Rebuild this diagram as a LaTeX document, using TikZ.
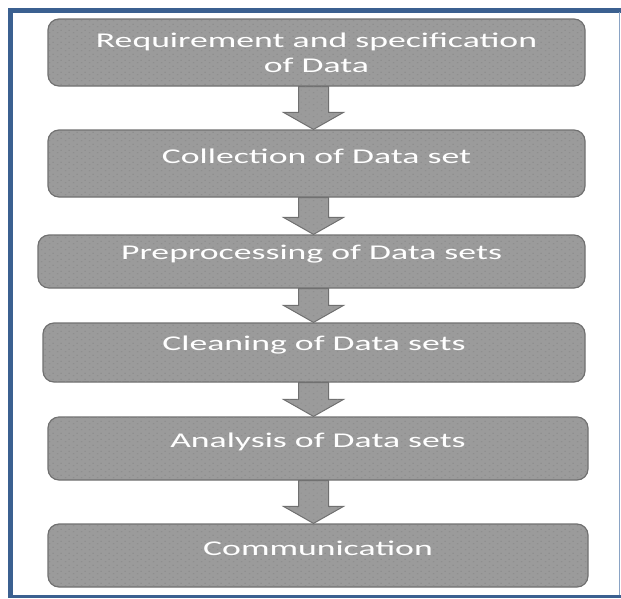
\documentclass[tikz,border=0pt]{standalone}
\usepackage{fontspec}
\newfontfamily\stagefont[FakeStretch=1.7]{Carlito}
\usetikzlibrary{calc,patterns}

\definecolor{frameblue}{HTML}{3B6090}
\definecolor{framelight}{HTML}{8AA3C4}
\definecolor{boxgray}{HTML}{9B9B9B}
\definecolor{boxline}{HTML}{707070}
\definecolor{boxdot}{HTML}{8A8A8A}

% fine grain used on the boxes and arrows
\pgfdeclarepatternformonly{grain}{\pgfpointorigin}{\pgfqpoint{8pt}{6pt}}{\pgfqpoint{8pt}{6pt}}{%
  \pgfpathrectangle{\pgfqpoint{1pt}{1pt}}{\pgfqpoint{1.6pt}{0.8pt}}%
  \pgfpathrectangle{\pgfqpoint{5pt}{4pt}}{\pgfqpoint{1.6pt}{0.8pt}}%
  \pgfusepath{fill}}

\tikzset{
  stage/.style={draw=boxline, line width=1.2pt, fill=boxgray, rounded corners=11pt,
    text=white, font=\stagefont\fontsize{21}{25}\selectfont, align=center, inner sep=0pt,
    postaction={pattern=grain, pattern color=boxdot}},
  flow/.style={draw=boxline, line width=1pt, fill=boxgray,
    postaction={pattern=grain, pattern color=boxdot}}
}

% single line labels sit a little above the middle
\newcommand{\lift}[1]{\raisebox{7pt}[\height][\depth]{#1}}

% block arrow from the bottom of one box to the top of the next
\newcommand{\flowarrow}[2]{%
  \draw[flow] let \p1=(#1.south), \p2=(#2.north) in
    (298.5,\y1) -- (328.5,\y1) -- (328.5,{\y2+17pt}) -- (343.5,{\y2+17pt})
    -- (313.5,\y2) -- (283.5,{\y2+17pt}) -- (298.5,{\y2+17pt}) -- cycle;}

\begin{document}
\begin{tikzpicture}[x=1pt, y=-1pt]

    \useasboundingbox (0,0) rectangle (621,598);

    % Frame
    \draw[frameblue, line width=5pt] (10,598) -- (10,10) -- (621,10);
    \draw[frameblue, line width=3pt] (10,596) -- (621,596);
    \draw[framelight, line width=1.5pt] (619.5,12) -- (619.5,595);

    % Stages
    \node[stage, minimum width=537pt, minimum height=67pt] (require) at (316.5,52.5)
        {Requirement and specification\\of Data};
    \node[stage, minimum width=537pt, minimum height=67pt] (collect) at (316.5,163.5)
        {\lift{Collection of Data set}};
    \node[stage, minimum width=547pt, minimum height=53pt] (preproc) at (311.5,261.5)
        {\lift{Preprocessing of Data sets}};
    \node[stage, minimum width=542pt, minimum height=59pt] (clean) at (314,352.5)
        {\lift{Cleaning of Data sets}};
    \node[stage, minimum width=540pt, minimum height=63pt] (analyse) at (318,448.5)
        {\lift{Analysis of Data sets}};
    \node[stage, minimum width=540pt, minimum height=63pt] (communicate) at (318,555.5)
        {\lift{Communication}};

    % Arrows between stages
    \flowarrow{require}{collect}
    \flowarrow{collect}{preproc}
    \flowarrow{preproc}{clean}
    \flowarrow{clean}{analyse}
    \flowarrow{analyse}{communicate}

\end{tikzpicture}
\end{document}
